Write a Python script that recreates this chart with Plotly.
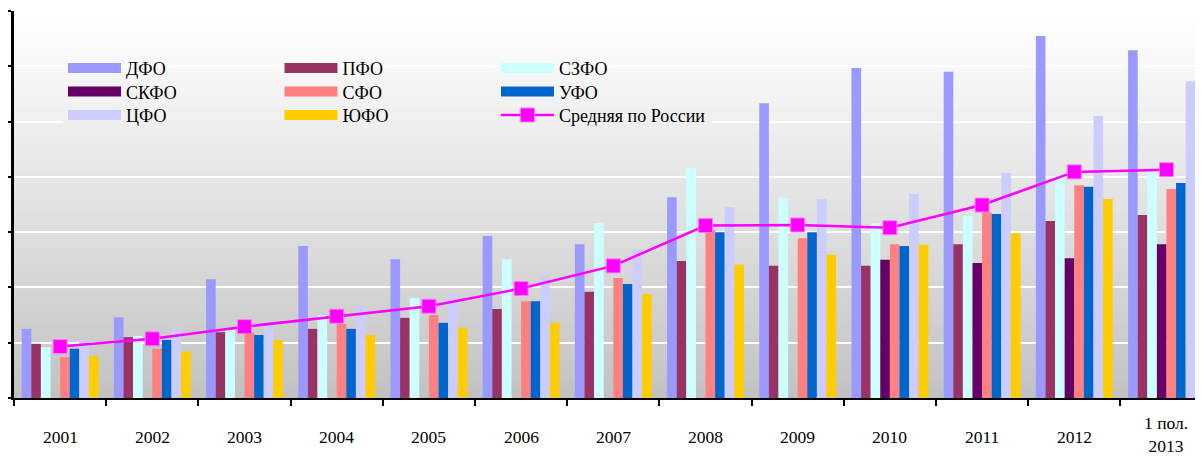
import plotly.graph_objects as go

categories = ["2001", "2002", "2003", "2004", "2005", "2006", "2007",
              "2008", "2009", "2010", "2011", "2012", "1 пол.<br>2013"]

dfo  = [12.5, 14.6, 21.5, 27.5, 25.1, 29.3, 27.8, 36.3, 53.3, 59.7, 59.0, 65.5, 62.9]
pfo  = [9.8, 11.0, 11.9, 12.5, 14.5, 16.1, 19.2, 24.8, 23.9, 23.9, 27.8, 32.0, 33.1]
szfo = [9.2, 11.2, 12.3, 15.0, 18.1, 25.1, 31.6, 41.6, 36.2, 31.6, 32.9, 40.0, 40.9]
skfo = [None, None, None, None, None, None, None, None, None, 25.0, 24.4, 25.3, 27.8]
sfo  = [7.4, 8.9, 11.8, 13.4, 15.0, 17.5, 21.7, 30.4, 28.9, 27.8, 33.6, 38.5, 37.8]
ufo  = [8.9, 10.5, 11.4, 12.5, 13.6, 17.5, 20.6, 30.0, 30.0, 27.5, 33.3, 38.2, 38.9]
cfo  = [10.5, 12.7, 13.7, 16.6, 18.8, 22.1, 26.8, 34.5, 36.0, 36.9, 40.7, 51.0, 57.3]
yufo = [7.6, 8.4, 10.5, 11.4, 12.7, 13.6, 18.8, 24.1, 25.9, 27.7, 29.8, 36.0, 39.1]
avg  = [9.3, 10.7, 12.9, 14.8, 16.6, 19.8, 23.9, 31.2, 31.3, 30.8, 34.9, 40.9, 41.3]

series_names = ["ДФО", "ПФО", "СЗФО", "СКФО", "СФО", "УФО", "ЦФО", "ЮФО"]
series_values = [dfo, pfo, szfo, skfo, sfo, ufo, cfo, yufo]
series_colors = ["#9999FF", "#993366", "#CCFFFF", "#660066",
                 "#FF8080", "#0066CC", "#CCCCFF", "#FFCC00"]
avg_name = "Средняя по России"

FONT = "Liberation Serif"
legend_ids = ["legend", "legend", "legend", "legend2", "legend2", "legend2",
              "legend3", "legend3"]

X_RANGE = [-0.5, 12.396]
Y_RANGE = [0, 70]
LEG_X0, LEG_X1 = 0.0412, 0.587

fig = go.Figure()

for name, vals, col in zip(series_names, series_values, series_colors):
    fig.add_trace(go.Bar(x=list(range(len(categories))), y=vals, name=name,
                         marker_color=col, marker_line_width=0, showlegend=False))

# legend swatches (wide rectangles like the original)
for name, col, lg in zip(series_names, series_colors, legend_ids):
    fig.add_trace(go.Scatter(x=[None], y=[None], mode="lines", name=name,
                             line=dict(color=col, width=13), showlegend=True,
                             legend=lg, hoverinfo="skip"))

fig.add_trace(go.Scatter(x=list(range(len(categories))), y=avg, name=avg_name,
                         mode="lines+markers", legend="legend3",
                         line=dict(color="#FF00FF", width=2.5),
                         marker=dict(symbol="square", size=14, color="#FF00FF",
                                     line=dict(color="#FF77FF", width=1))))


def grey_at(p):
    return int(round(192 + 63 * p ** 0.9))


# vertical gradient background (white at top to grey at bottom)
shapes = []
n = 90
for i in range(n, 0, -1):
    p = i / n
    g = grey_at(p)
    shapes.append(dict(type="rect", xref="paper", yref="paper", x0=0, x1=1,
                       y0=0, y1=p, fillcolor=f"rgb({g},{g},{g})",
                       line=dict(width=0), layer="below"))

# the legend box hides the grid line that passes behind it
grid_v = 50
g = grey_at((grid_v - Y_RANGE[0]) / (Y_RANGE[1] - Y_RANGE[0]))
span = X_RANGE[1] - X_RANGE[0]
shapes.append(dict(type="rect", xref="x", yref="y",
                   x0=X_RANGE[0] + LEG_X0 * span, x1=X_RANGE[0] + LEG_X1 * span,
                   y0=grid_v - 0.5, y1=grid_v + 0.5,
                   fillcolor=f"rgb({g},{g},{g})", line=dict(width=0),
                   layer="between"))

annotations = [dict(x=i, y=-0.1008, xref="x", yref="paper", text=c, showarrow=False,
                    xanchor="center", yanchor="middle",
                    yshift=(3 if "<br>" in c else 0),
                    font=dict(family=FONT, size=17.5, color="black"))
               for i, c in enumerate(categories)]


def legend_cfg(y):
    return dict(orientation="h", x=LEG_X0, y=y, xanchor="left", yanchor="top",
                entrywidth=148.5, entrywidthmode="pixels", itemwidth=53,
                bgcolor="rgba(0,0,0,0)",
                font=dict(family=FONT, size=18, color="black"),
                tracegroupgap=0, traceorder="normal")


# the page body adds an 8px offset; figure size/margins compensate for it
fig.update_layout(
    width=1195, height=449, autosize=False,
    margin=dict(l=6, r=0, t=3, b=59),
    paper_bgcolor="white", plot_bgcolor="rgba(0,0,0,0)",
    barmode="group", bargap=0.167, bargroupgap=0,
    shapes=shapes, annotations=annotations,
    font=dict(family=FONT, size=18, color="black"),
    legend=legend_cfg(0.8997),
    legend2=legend_cfg(0.8390),
    legend3=legend_cfg(0.7783),
    xaxis=dict(type="linear", range=X_RANGE, showticklabels=False,
               showline=True, linecolor="black", linewidth=2,
               ticks="outside", tickvals=[i - 0.5 for i in range(len(categories) + 1)],
               ticklen=6, tickwidth=2, tickcolor="black", showgrid=False,
               zeroline=False),
    yaxis=dict(range=Y_RANGE, tickvals=[0, 10, 20, 30, 40, 50, 60, 70],
               showticklabels=False, showline=True, linecolor="black", linewidth=2.5,
               ticks="outside", ticklen=6, tickwidth=2, tickcolor="black",
               showgrid=True, gridcolor="white", gridwidth=2, zeroline=False),
)

fig.write_html("out.html")
